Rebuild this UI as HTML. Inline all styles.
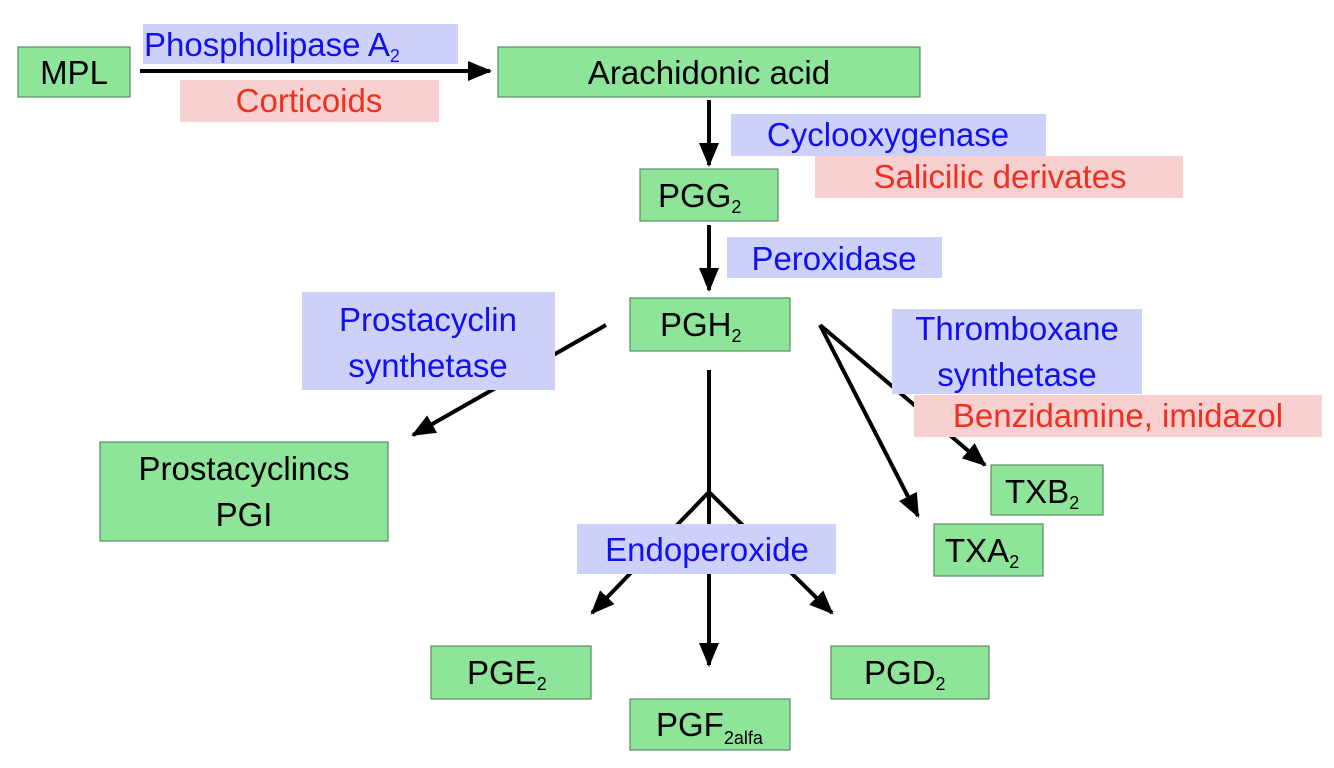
<!DOCTYPE html>
<html><head><meta charset="utf-8"><style>
html,body{margin:0;padding:0;background:#fff}
svg{display:block}
text{font-family:"Liberation Sans",sans-serif;font-size:33px}
.k{fill:#000}.b{fill:#1010f0}.r{fill:#ee3020}
</style></head><body>
<svg width="1334" height="768" viewBox="0 0 1334 768">
<defs><marker id="a" markerWidth="10" markerHeight="10" refX="8" refY="5" orient="auto" markerUnits="userSpaceOnUse" viewBox="0 0 10 10"><path d="M0,0 L10,5 L0,10z"/></marker>
<marker id="h" markerWidth="24" markerHeight="24" refX="22" refY="12" orient="auto" markerUnits="userSpaceOnUse"><path d="M0,2 L24,12 L0,22z" fill="#000"/></marker></defs>
<g stroke="#000" stroke-width="4" fill="none">
<line x1="140" y1="71" x2="490" y2="71" marker-end="url(#h)"/>
<line x1="709" y1="100" x2="709" y2="165" marker-end="url(#h)"/>
<line x1="709" y1="225" x2="709" y2="290" marker-end="url(#h)"/>
<line x1="606" y1="325" x2="413" y2="435" marker-end="url(#h)"/>
<line x1="820" y1="325" x2="985" y2="465" marker-end="url(#h)"/>
<line x1="820" y1="325" x2="918" y2="516" marker-end="url(#h)"/>
<line x1="709" y1="370" x2="709" y2="665" marker-end="url(#h)"/>
<line x1="709" y1="492" x2="592" y2="613" marker-end="url(#h)"/>
<line x1="709" y1="492" x2="832" y2="613" marker-end="url(#h)"/>
</g>
<g fill="#cdd0f8">
<rect x="143" y="24" width="315" height="40"/>
<rect x="731" y="114" width="315" height="42"/>
<rect x="727" y="237" width="215" height="41"/>
<rect x="302" y="292" width="253" height="98"/>
<rect x="892" y="309" width="250" height="85"/>
<rect x="577" y="524" width="259" height="50"/>
</g>
<g fill="#f8d0d0">
<rect x="180" y="80" width="259" height="42"/>
<rect x="815" y="156" width="368" height="42"/>
<rect x="914" y="395" width="408" height="42"/>
</g>
<g fill="#8ee59a" stroke="#5a8a60" stroke-width="1.2">
<rect x="18" y="47" width="112" height="50"/>
<rect x="498" y="47" width="422" height="50"/>
<rect x="640" y="169" width="138" height="52"/>
<rect x="630" y="298" width="160" height="53"/>
<rect x="100" y="442" width="288" height="99"/>
<rect x="991" y="465" width="112" height="50"/>
<rect x="934" y="524" width="109" height="52"/>
<rect x="431" y="646" width="160" height="53"/>
<rect x="630" y="699" width="160" height="51"/>
<rect x="831" y="646" width="158" height="53"/>
</g>
<text class="k" x="74" y="84" text-anchor="middle">MPL</text>
<text class="k" x="709" y="84" text-anchor="middle">Arachidonic acid</text>
<text class="k" x="658" y="207">PGG<tspan font-size="18" dy="6">2</tspan></text>
<text class="k" x="660" y="336">PGH<tspan font-size="18" dy="6">2</tspan></text>
<text class="k" x="244" y="480" text-anchor="middle">Prostacyclincs</text>
<text class="k" x="244" y="526" text-anchor="middle">PGI</text>
<text class="k" x="1005" y="503">TXB<tspan font-size="18" dy="6">2</tspan></text>
<text class="k" x="945" y="562">TXA<tspan font-size="18" dy="6">2</tspan></text>
<text class="k" x="467" y="684">PGE<tspan font-size="18" dy="6">2</tspan></text>
<text class="k" x="656" y="736">PGF<tspan font-size="18" dy="8">2alfa</tspan></text>
<text class="k" x="864" y="684">PGD<tspan font-size="18" dy="6">2</tspan></text>
<text class="b" x="144" y="56">Phospholipase A<tspan font-size="18" dy="6">2</tspan></text>
<text class="r" x="309" y="112" text-anchor="middle">Corticoids</text>
<text class="b" x="888" y="146" text-anchor="middle">Cyclooxygenase</text>
<text class="r" x="1000" y="188" text-anchor="middle">Salicilic derivates</text>
<text class="b" x="834" y="270" text-anchor="middle">Peroxidase</text>
<text class="b" x="428" y="331" text-anchor="middle">Prostacyclin</text>
<text class="b" x="428" y="377" text-anchor="middle">synthetase</text>
<text class="b" x="1017" y="340" text-anchor="middle">Thromboxane</text>
<text class="b" x="1017" y="386" text-anchor="middle">synthetase</text>
<text class="r" x="1118" y="427" text-anchor="middle">Benzidamine, imidazol</text>
<text class="b" x="707" y="561" text-anchor="middle">Endoperoxide</text>
</svg>
</body></html>
